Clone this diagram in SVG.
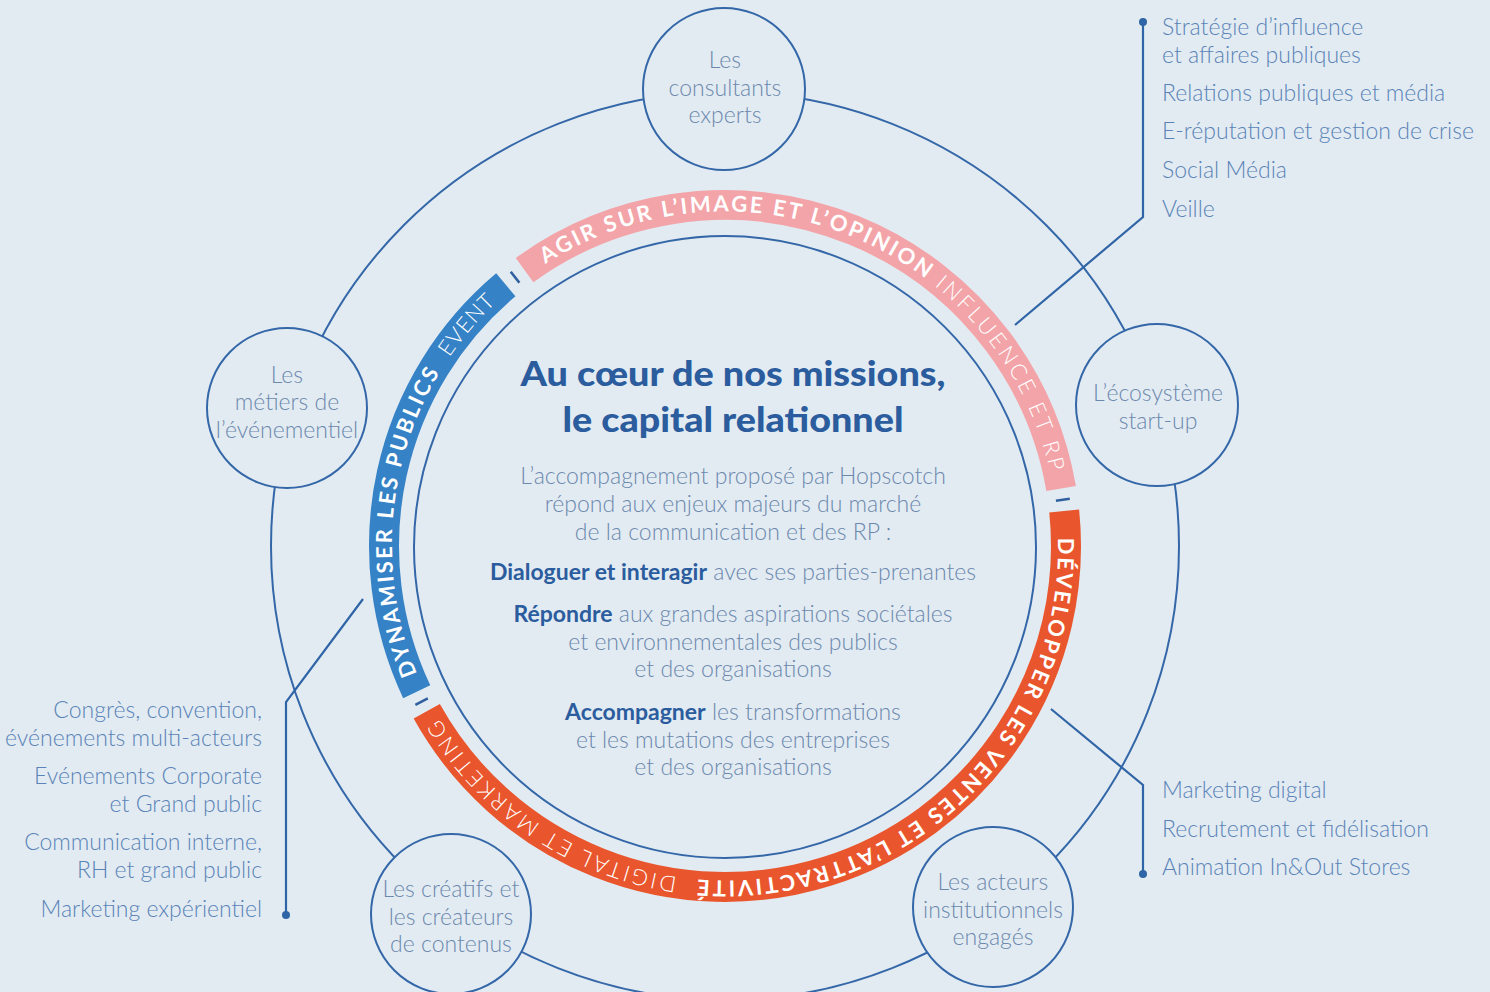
<svg xmlns="http://www.w3.org/2000/svg" xmlns:xlink="http://www.w3.org/1999/xlink" width="1490" height="992" viewBox="0 0 1490 992">
  <defs>
    <style>
      .bg { fill: #e2ebf2; }
      .orbit { fill: none; stroke: #3467a8; stroke-width: 2; }
      .node { fill: #e2ebf2; stroke: #3467a8; stroke-width: 2; }
      .link { fill: none; stroke: #2f64a6; stroke-width: 2.2; }
      .dot { fill: #2f64a6; }
      .tick { stroke: #2f5f9e; stroke-width: 2.6; }
      .band { fill: none; stroke-width: 30; }
      .lbl { font-family: Lato, "Open Sans", sans-serif; font-weight: 300; font-size: 23px; fill: #6c88ad; text-anchor: middle; }
      .list { font-family: Lato, "Open Sans", sans-serif; font-weight: 300; font-size: 23px; fill: #5a83b7; }
      .title { font-family: Lato, "Open Sans", sans-serif; font-weight: 900; font-size: 35px; fill: #2b5c9e; text-anchor: middle; }
      .body { font-family: Lato, "Open Sans", sans-serif; font-weight: 300; font-size: 23px; fill: #6c88ad; text-anchor: middle; }
      .body .b { font-weight: 700; fill: #2b5c9e; }
      .ring { font-family: Lato, "Open Sans", sans-serif; font-size: 22px; fill: #ffffff; }
      .ring .strong { font-weight: 700; }
      .ring .thin { font-weight: 300; }
    </style>
    <!-- clockwise baseline circle (r=333) starting at -3 degrees -->
    <path id="ringPath" d="M1057.54,528.57 A333,333 0 1,1 392.46,563.43 A333,333 0 1,1 1057.54,528.57"/>
  </defs>

  <rect class="bg" x="0" y="0" width="1490" height="992"/>

  <!-- outer orbit and inner circle -->
  <circle class="orbit" cx="725" cy="546" r="454"/>
  <circle class="orbit" cx="725" cy="547" r="311"/>

  <!-- connectors -->
  <g id="connectors">
    <path class="link" d="M1143,22 V217 L1015,325"/>
    <circle class="dot" cx="1143" cy="22" r="4"/>
    <path class="link" d="M1051,709 L1143,785 V874"/>
    <circle class="dot" cx="1143" cy="874" r="4"/>
    <path class="link" d="M363,599 L286,702 V915"/>
    <circle class="dot" cx="286" cy="915" r="4"/>
  </g>

  <!-- coloured ring segments -->
  <g id="ring">
    <path class="band" stroke="#e9552c" d="M1064.19,510.95 A341,341 0 0,1 426.76,711.32"/>
    <path class="band" stroke="#3682c6" d="M416.71,691.73 A341,341 0 0,1 505.81,284.78"/>
    <path class="band" stroke="#f3a4a8" d="M524.56,270.13 A341,341 0 0,1 1061.12,488.54"/>
    <line class="tick" x1="1055.91" y1="500.67" x2="1069.78" y2="498.77"/>
    <line class="tick" x1="427.81" y1="698.40" x2="415.35" y2="704.79"/>
    <line class="tick" x1="519.37" y1="282.80" x2="510.75" y2="271.77"/>

    <text class="ring"><textPath xlink:href="#ringPath" href="#ringPath" startOffset="9.3"><tspan class="strong" textLength="560" lengthAdjust="spacing">DÉVELOPPER LES VENTES ET L’ATTRACTIVITÉ</tspan></textPath></text>
    <text class="ring"><textPath xlink:href="#ringPath" href="#ringPath" startOffset="590"><tspan class="thin" textLength="295" lengthAdjust="spacing">DIGITAL ET MARKETING</tspan></textPath></text>
    <text class="ring"><textPath xlink:href="#ringPath" href="#ringPath" startOffset="935"><tspan class="strong" textLength="313" lengthAdjust="spacing">DYNAMISER LES PUBLICS</tspan></textPath></text>
    <text class="ring"><textPath xlink:href="#ringPath" href="#ringPath" startOffset="1266"><tspan class="thin" textLength="72" lengthAdjust="spacing">EVENT</tspan></textPath></text>
    <text class="ring"><textPath xlink:href="#ringPath" href="#ringPath" startOffset="1401"><tspan class="strong" textLength="405" lengthAdjust="spacing">AGIR SUR L’IMAGE ET L’OPINION</tspan></textPath></text>
    <text class="ring"><textPath xlink:href="#ringPath" href="#ringPath" startOffset="1817"><tspan class="thin" textLength="223" lengthAdjust="spacing">INFLUENCE ET RP</tspan></textPath></text>
  </g>

  <!-- satellite nodes -->
  <g id="node-consultants">
    <circle class="node" cx="724" cy="89" r="81"/>
    <text class="lbl" x="725" y="68">Les</text>
    <text class="lbl" x="725" y="96">consultants</text>
    <text class="lbl" x="725" y="123">experts</text>
  </g>
  <g id="node-evenementiel">
    <circle class="node" cx="287" cy="408" r="80"/>
    <text class="lbl" x="287" y="383">Les</text>
    <text class="lbl" x="287" y="410">métiers de</text>
    <text class="lbl" x="287" y="438">l’événementiel</text>
  </g>
  <g id="node-startup">
    <circle class="node" cx="1157" cy="405" r="81"/>
    <text class="lbl" x="1158" y="401">L’écosystème</text>
    <text class="lbl" x="1158" y="429">start-up</text>
  </g>
  <g id="node-createurs">
    <circle class="node" cx="451" cy="914" r="80"/>
    <text class="lbl" x="451" y="897">Les créatifs et</text>
    <text class="lbl" x="451" y="925">les créateurs</text>
    <text class="lbl" x="451" y="952">de contenus</text>
  </g>
  <g id="node-institutionnels">
    <circle class="node" cx="993" cy="907" r="80"/>
    <text class="lbl" x="993" y="890">Les acteurs</text>
    <text class="lbl" x="993" y="918">institutionnels</text>
    <text class="lbl" x="993" y="945">engagés</text>
  </g>

  <!-- centre -->
  <g id="centre">
    <text class="title" x="733" y="386" textLength="425" lengthAdjust="spacingAndGlyphs">Au cœur de nos missions,</text>
    <text class="title" x="733" y="432" textLength="341" lengthAdjust="spacingAndGlyphs">le capital relationnel</text>
    <text class="body" x="733" y="484">L’accompagnement proposé par Hopscotch</text>
    <text class="body" x="733" y="512">répond aux enjeux majeurs du marché</text>
    <text class="body" x="733" y="540">de la communication et des RP :</text>
    <text class="body" x="733" y="580"><tspan class="b">Dialoguer et interagir</tspan> avec ses parties-prenantes</text>
    <text class="body" x="733" y="622"><tspan class="b">Répondre</tspan> aux grandes aspirations sociétales</text>
    <text class="body" x="733" y="650">et environnementales des publics</text>
    <text class="body" x="733" y="677">et des organisations</text>
    <text class="body" x="733" y="720"><tspan class="b">Accompagner</tspan> les transformations</text>
    <text class="body" x="733" y="748">et les mutations des entreprises</text>
    <text class="body" x="733" y="775">et des organisations</text>
  </g>

  <!-- service lists -->
  <g id="list-influence">
    <text class="list" x="1162" y="35">Stratégie d’influence</text>
    <text class="list" x="1162" y="63">et affaires publiques</text>
    <text class="list" x="1162" y="101">Relations publiques et média</text>
    <text class="list" x="1162" y="139">E-réputation et gestion de crise</text>
    <text class="list" x="1162" y="178">Social Média</text>
    <text class="list" x="1162" y="217">Veille</text>
  </g>
  <g id="list-marketing">
    <text class="list" x="1162" y="798">Marketing digital</text>
    <text class="list" x="1162" y="837">Recrutement et fidélisation</text>
    <text class="list" x="1162" y="875">Animation In&amp;Out Stores</text>
  </g>
  <g id="list-event" text-anchor="end">
    <text class="list" x="262" y="718">Congrès, convention,</text>
    <text class="list" x="262" y="746">événements multi-acteurs</text>
    <text class="list" x="262" y="784">Evénements Corporate</text>
    <text class="list" x="262" y="812">et Grand public</text>
    <text class="list" x="262" y="850">Communication interne,</text>
    <text class="list" x="262" y="878">RH et grand public</text>
    <text class="list" x="262" y="917">Marketing expérientiel</text>
  </g>
</svg>
